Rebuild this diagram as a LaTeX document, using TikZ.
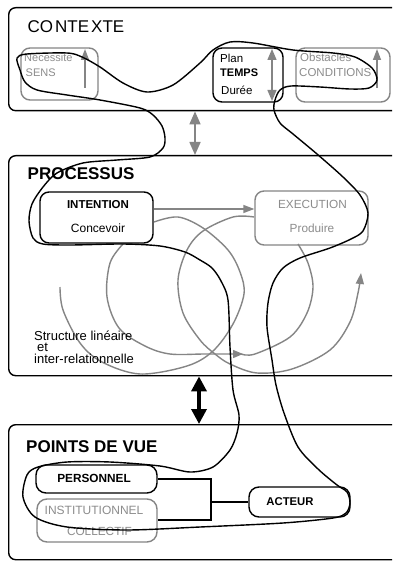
\documentclass[tikz,border=0pt]{standalone}
\usepackage{fontspec}
\setmainfont{Liberation Sans}
\usetikzlibrary{arrows.meta}
\definecolor{mgray}{gray}{0.52}
\definecolor{tgray}{gray}{0.55}
\begin{document}
\begin{tikzpicture}[x=1pt,y=-1pt,
  frame/.style={draw=black,line width=1.4pt,rounded corners=7pt,inner sep=0pt},
  gbox/.style={draw=mgray,line width=1.4pt,rounded corners=9pt,inner sep=0pt},
  bbox/.style={draw=black,line width=1.4pt,rounded corners=9pt,inner sep=0pt},
  title/.style={font=\fontsize{17}{20}\selectfont\bfseries,anchor=base west,inner sep=0pt},
  lbl/.style={font=\fontsize{11.5}{13}\selectfont,inner sep=0pt},
  glbl/.style={font=\fontsize{11.5}{13}\selectfont,inner sep=0pt,text=tgray},
  blbl/.style={font=\fontsize{11.5}{13}\selectfont\bfseries,inner sep=0pt},
  slbl/.style={font=\fontsize{13}{11.6}\selectfont,inner sep=0pt,anchor=north west,align=left},
  garrow/.style={draw=mgray,line width=1.4pt,-{Triangle[length=11pt,width=8pt]}},
  gdarrow/.style={draw=mgray,line width=1.6pt,{Triangle[length=13pt,width=11pt]}-{Triangle[length=13pt,width=11pt]}},
  bdarrow/.style={draw=black,line width=3.5pt,{Triangle[length=15pt,width=15pt]}-{Triangle[length=15pt,width=15pt]}},
  gcurve/.style={draw=mgray,line width=1.4pt},
  conn/.style={draw=black,line width=1.3pt},
  freehand/.style={draw=black,line width=1.4pt}]
\fill[white] (0,0) rectangle (392,561);
\useasboundingbox (0,0) rectangle (392,561);
\clip (0,0) rectangle (392,561);

% frames
\node[frame,anchor=north west,minimum width=400pt,minimum height=103pt] (ctx) at (8,7) {};
\node[frame,anchor=north west,minimum width=400pt,minimum height=220pt] (proc) at (8,155) {};
\node[frame,anchor=north west,minimum width=400pt,minimum height=135pt] (pdv) at (8,424) {};

\node[title,font=\fontsize{17}{20}\selectfont] (tctx) at (27.5,33) {CO\kern2pt NTE\kern2pt XTE};
\node[title] (tproc) at (27.5,180) {PROCESSUS};
\node[title] (tpdv) at (26,452) {POINTS DE VUE};

% CONTEXTE boxes
\node[gbox,minimum width=77pt,minimum height=52pt] (sens) at (59.5,74) {};
\node[bbox,minimum width=70pt,minimum height=54pt] (temps) at (248,75) {};
\node[gbox,minimum width=94pt,minimum height=54pt] (cond) at (343,75) {};

\node[glbl,anchor=base west,font=\fontsize{11}{13}\selectfont] (tnec) at (24,62) {Nécessite};
\node[glbl,anchor=base west,font=\fontsize{11}{13}\selectfont] (tsens) at (25.5,77) {SENS};
\node[lbl,anchor=base west] (tplan) at (220,63) {Plan};
\node[blbl,anchor=base west,font=\fontsize{11}{13}\selectfont\bfseries] (ttemps) at (220,77) {TEMPS};
\node[lbl,anchor=base west] (tduree) at (221,95) {Durée};
\node[glbl,anchor=base west] (tobs) at (300,62) {Obstacles};
\node[glbl,anchor=base west] (tcond) at (299,77) {CONDITIONS};

\coordinate (s1) at (85,88); \coordinate (s2) at (85,49);
\coordinate (t1) at (272,101); \coordinate (t2) at (272,49);
\coordinate (c1) at (377,88); \coordinate (c2) at (377,49);
\draw[garrow] (s1) -- (s2);
\draw[garrow,{Triangle[length=11pt,width=9pt]}-{Triangle[length=11pt,width=9pt]}] (t1) -- (t2);
\draw[garrow] (c1) -- (c2);

% inter-frame arrows
\coordinate (ax) at (195,0);
\coordinate (bx) at (199,0);
\draw[gdarrow] (ctx.south -| ax) -- (proc.north -| ax);
\draw[bdarrow] (proc.south -| bx) -- (pdv.north -| bx);

% PROCESSUS
\node[bbox,minimum width=113pt,minimum height=51pt] (intention) at (96.5,217.5) {};
\node[gbox,minimum width=113pt,minimum height=54pt] (execution) at (311.5,218) {};
\node[blbl,anchor=base] (tint) at (98,208) {INTENTION};
\node[lbl,anchor=base,font=\fontsize{12}{13}\selectfont] (tconc) at (98,232) {Concevoir};
\node[glbl,anchor=base,font=\fontsize{11.8}{13}\selectfont] (texec) at (312.5,208) {EXECUTION};
\node[glbl,anchor=base,font=\fontsize{11.8}{13}\selectfont] (tprod) at (312,232) {Produire};
\coordinate (ay) at (0,209);
\draw[garrow] (intention.east |- ay) -- (execution.west |- ay);

% spirals
\draw[gcurve] plot[smooth,tension=0.55] coordinates {(60,287) (63,310) (80,343) (102,362) (140,374) (187,366) (213,351) (233,324) (244,294) (240,272) (228,250) (203,228) (178,217) (154,222)};
\draw[gcurve,-{Triangle[length=10pt,width=8pt]}] plot[smooth,tension=0.55] coordinates {(123,244) (110,263) (107,297) (119,328) (145,346) (170,354) (205,354) (243,354)};
\draw[gcurve] plot[smooth,tension=0.55] coordinates {(241,354) (255,354) (290,337) (307,313) (313,287) (308,263) (298,244)};
\draw[gcurve,-{Triangle[length=11pt,width=8pt]}] plot[smooth,tension=0.55] coordinates {(254,217) (233,217) (203,231) (187,250) (178,280) (183,313) (200,340) (215,354) (230,364) (257,373) (292,369) (330,350) (350,322) (358,293) (361,273)};

\node[slbl] (tstr) at (34,330.5) {Structure linéaire\\\hspace*{3pt}et\\inter-relationnelle};

% POINTS DE VUE
\node[bbox,minimum width=121pt,minimum height=28pt,rounded corners=10pt] (personnel) at (96.5,479) {};
\node[gbox,minimum width=120pt,minimum height=43pt,rounded corners=10pt] (instit) at (97,520.5) {};
\node[bbox,minimum width=101pt,minimum height=30pt,rounded corners=10pt] (acteur) at (299.5,502) {};
\node[blbl,anchor=base,font=\fontsize{11.8}{13}\selectfont\bfseries] (tpers) at (94,482) {PERSONNEL};
\node[glbl,anchor=base,font=\fontsize{12}{13}\selectfont] (tinst) at (94,514) {INSTITUTIONNEL};
\node[glbl,anchor=base,font=\fontsize{11.8}{13}\selectfont] (tcoll) at (99.5,535) {COLLECTIF};
\node[blbl,anchor=base,font=\fontsize{11.3}{13}\selectfont\bfseries] (tact) at (290,505) {ACTEUR};
\coordinate (jb) at (211,520);
\draw[conn] (personnel.east) -| (jb) -- (instit.east |- jb);
\draw[conn] (jb |- acteur.west) -- (acteur.west);

% freehand loop
\draw[freehand] plot[smooth cycle,tension=0.5] coordinates {
(17,58) (27,54) (67,53) (82,57) (100,67) (123,83) (147,92) (173,85) (200,63) (213,50) (230,42) (253,43) (293,50) (333,53) (355,57) (372,68) (377,80) (369,88) (350,89) (320,87) (291,86) (280,90) (275,100) (274,110) (280,123) (293,134) (317,154) (343,177) (360,195) (368,213) (363,231) (351,239) (330,248) (300,258) (283,268) (273,283) (268,303) (267,327) (272,360) (276,385) (284,413) (298,447) (318,469) (337,485) (347,492) (350,503) (346,513) (333,518) (283,523) (200,527) (127,530) (67,527) (35,517) (23,497) (27,475) (38,467) (67,462) (110,462) (160,466) (190,472) (213,467) (230,450) (237,433) (239,415) (233,390) (230,347) (228,300) (221,281) (212,268) (200,260) (185,252) (160,246) (123,244) (70,245) (43,244) (33,238) (29,221) (32,204) (43,187) (57,173) (83,163) (117,160) (150,157) (163,148) (165,138) (162,126) (153,115) (140,108) (100,100) (67,95) (37,90) (25,82) (20,70)};
\end{tikzpicture}
\end{document}
